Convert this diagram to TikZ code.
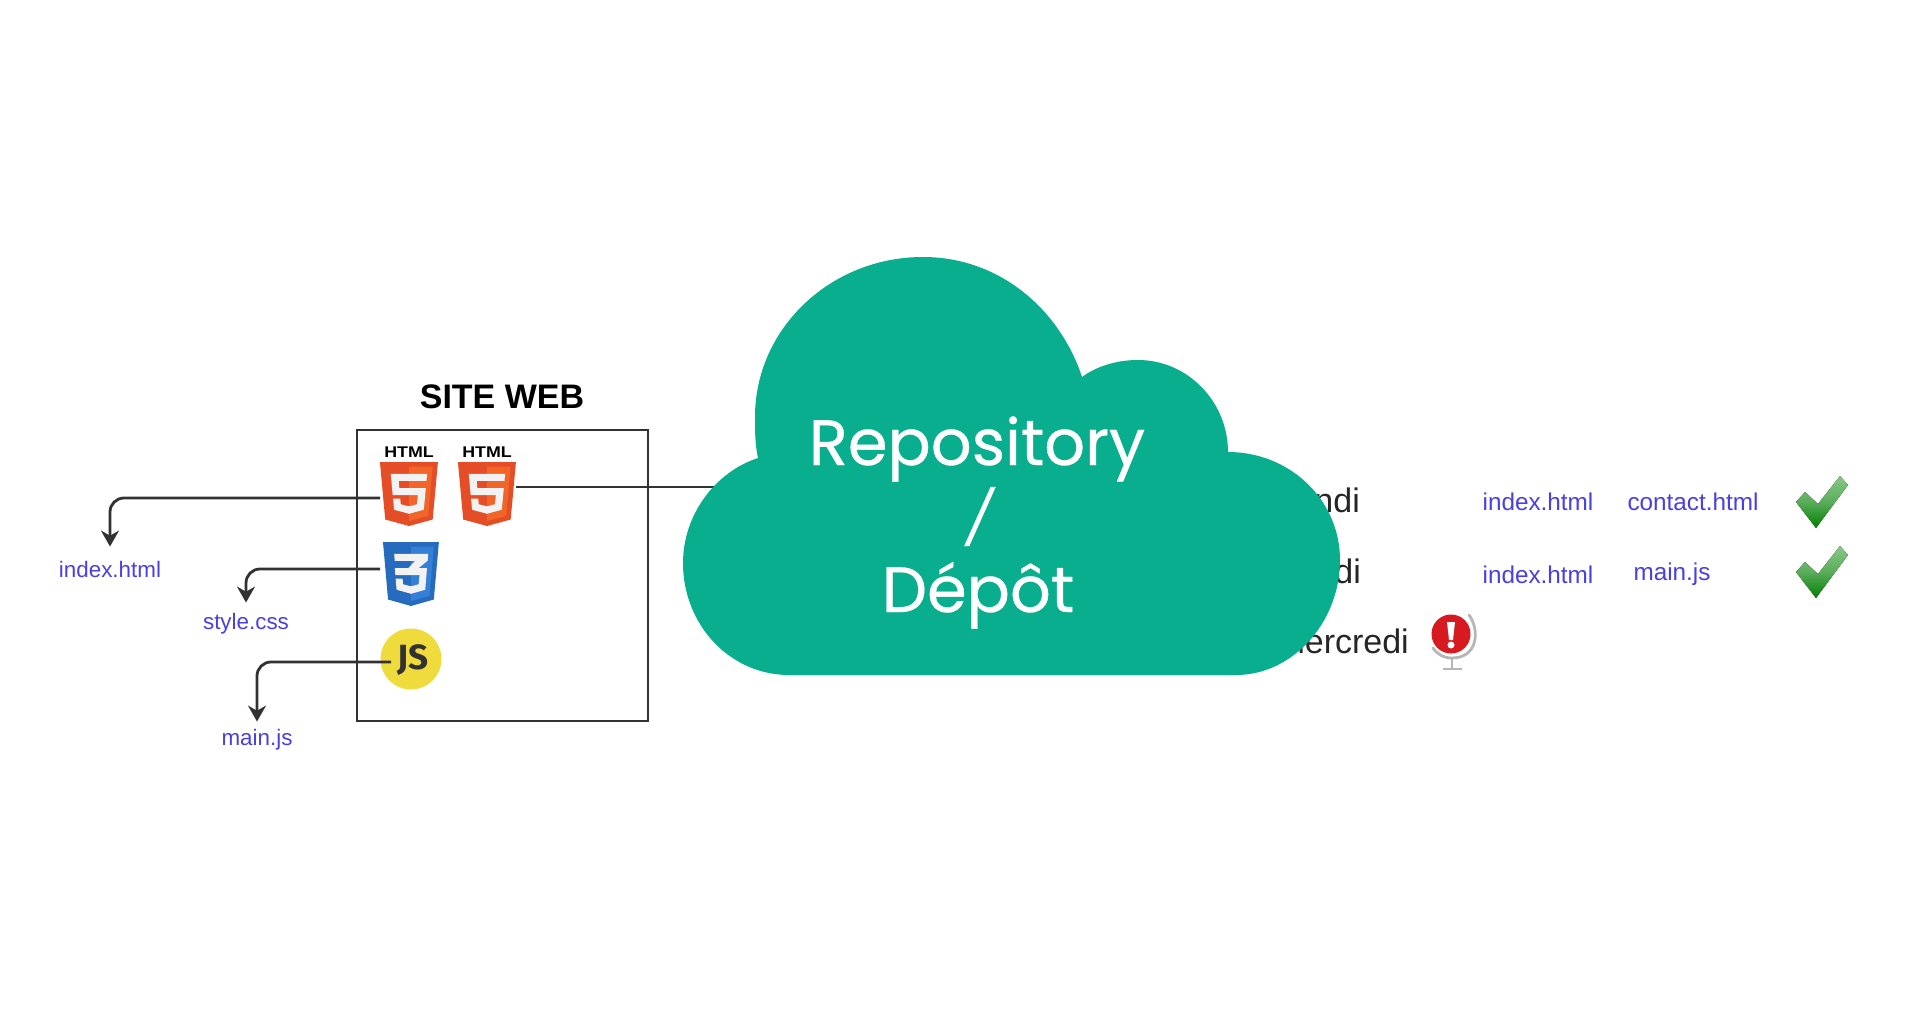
\documentclass[tikz,border=0pt]{standalone}
\usepackage{fontspec}
\setmainfont{Liberation Sans}
\newfontfamily\cloudfont[FakeBold=0.5]{Poppins}
\newfontfamily\jsfont{Fira Sans}
\newfontfamily\tagfont[FakeStretch=1.15]{Liberation Sans}
\usepackage{tikz}
\usetikzlibrary{arrows.meta}
\definecolor{cloudgreen}{RGB}{9,174,142}
\definecolor{linkblue}{RGB}{74,63,224}
\definecolor{linedark}{RGB}{50,50,50}
\definecolor{htmldark}{RGB}{228,77,38}
\definecolor{htmllight}{RGB}{241,101,41}
\definecolor{cssdark}{RGB}{38,107,189}
\definecolor{csslight}{RGB}{51,128,214}
\definecolor{jsyellow}{RGB}{240,219,60}
\definecolor{alertred}{RGB}{214,26,32}
\definecolor{standgray}{RGB}{182,182,182}
\definecolor{tickhigh}{RGB}{135,200,135}
\definecolor{tickmid}{RGB}{90,172,90}
\definecolor{ticklow}{RGB}{0,128,0}

\tikzset{
	html5/.pic={
		\begin{scope}[xscale=.1286,yscale=.125,shift={(-256,0)}]
			\fill[htmldark] (30,0) -- (481,0) -- (440,460) -- (256,512) -- (71,460) -- cycle;
			\fill[htmllight] (256,37) -- (440,37) -- (405,431) -- (256,472) -- cycle;
			\fill[shieldmark] (114,94) -- (397,94) -- (392,150) -- (176,150) -- (181,208) -- (387,208) -- (371,382) -- (256,414) -- (140,382) -- (132,293) -- (188,293) -- (192,338) -- (256,355) -- (318,338) -- (325,265) -- (129,265) -- cycle;
		\end{scope}
		\node[htmltag] (-tag) at (0,-10) {HTML};
		\coordinate (-w) at (-29,36);
		\coordinate (-e) at (29,25);
	},
	css3/.pic={
		\begin{scope}[xscale=.124,yscale=.125,shift={(-256,0)}]
			\fill[cssdark] (30,0) -- (481,0) -- (440,460) -- (256,512) -- (71,460) -- cycle;
			\fill[csslight] (256,37) -- (440,37) -- (405,431) -- (256,472) -- cycle;
			\fill[shieldmark] (120,94) -- (395,94) -- (390,150) -- (318,208) -- (385,208) -- (371,382) -- (256,414) -- (140,382) -- (132,293) -- (188,293) -- (192,338) -- (256,355) -- (318,338) -- (325,265) -- (130,265) -- (125,208) -- (235,208) -- (290,150) -- (125,150) -- cycle;
		\end{scope}
		\coordinate (-w) at (-31,27);
	},
	tick/.pic={
		\fill[top color=tickhigh, bottom color=ticklow, middle color=tickmid]
			(24,-52) -- (32,-43) -- (0,0) -- (-20,-26) -- (-11,-36) -- (2,-24) -- cycle;
	},
}

\begin{document}
\begin{tikzpicture}[x=1pt,y=-1pt]
	\tikzstyle{flow}=[draw=linedark, line width=2.8pt, rounded corners=14pt, -{Stealth[length=16pt,width=18pt]}]
	\tikzstyle{link}=[inner sep=0pt, anchor=base, text=linkblue]
	\tikzstyle{filesmall}=[link, font=\fontsize{22.4}{24}\selectfont]
	\tikzstyle{filebig}=[link, font=\fontsize{24.3}{26}\selectfont]
	\tikzstyle{day}=[inner sep=0pt, anchor=base east, text=black!85, font=\fontsize{34}{36}\selectfont]
	\tikzstyle{shieldmark}=[fill=black!5]
	\tikzstyle{htmltag}=[inner sep=0pt, font=\tagfont\fontsize{15.5}{16}\selectfont\bfseries]
	\tikzstyle{cloudtext}=[anchor=base, inner sep=0pt, text=white, font=\cloudfont\fontsize{64}{64}\selectfont]

	\useasboundingbox (0,0) rectangle (1920,1032);

	\node at (502,397) (title) {\fontsize{34}{36}\selectfont\bfseries SITE WEB};
	\node at (502.5,575.5) [draw=linedark, line width=2.8pt, minimum width=291pt, minimum height=291pt, inner sep=0pt] (site) {};

	\pic (hone) at (409,462) {html5};
	\pic (htwo) at (487,462) {html5};
	\pic (css) at (411,542) {css3};
	\node at (411,659) [circle, fill=jsyellow, minimum size=61pt, inner sep=0pt] (js) {};
	\node at (413,660) (jstext) {\jsfont\fontsize{35}{36}\selectfont\bfseries\textcolor{linedark}{JS}};
	\coordinate (jsout) at (391,662);

	\node at (110,577) [filesmall] (indexleft) {index.html};
	\node at (246,629) [filesmall] (styleleft) {style.css};
	\node at (257,745) [filesmall] (mainleft) {main.js};

	\draw [flow, shorten >=14pt] (hone-w) -| (indexleft.north);
	\draw [flow, shorten >=10pt] (css-w) -| (styleleft.north);
	\draw [flow, shorten >=7pt] (jsout) -| (mainleft.north);

	\coordinate (cloudin) at (716,487);
	\draw [draw=linedark, line width=2.8pt] (htwo-e) -- (cloudin);

	\node at (1360,512) [day] (dayone) {ndi};
	\node at (1361,583) [day] (daytwo) {di};
	\node at (1409,653) [day] (daythree) {mercredi};

	\node at (1538,510) [filebig] (indexone) {index.html};
	\node at (1693,510) [filebig] (contact) {contact.html};
	\node at (1538,583) [filebig] (indextwo) {index.html};
	\node at (1672,580) [filebig] (mainright) {main.js};

	\pic at (1816,528) {tick};
	\pic at (1816,598) {tick};

	% globe with the red alert
	\draw [standgray, line width=2.8pt, line cap=round] (1469,615) .. controls (1480,630) and (1478,658) .. (1452,658) .. controls (1444,658) and (1438,655) .. (1433,648);
	\draw [standgray, line width=2.8pt] (1452,658) -- (1452,668);
	\draw [standgray, line width=2.8pt] (1443,669) -- (1462,669);
	\node at (1451,634) [circle, fill=alertred, minimum size=39pt, inner sep=0pt] (alert) {};
	\fill [white] (1447,622) -- (1455,622) -- (1453,640) -- (1449,640) -- cycle;
	\fill [white] (1451,645) circle (3.5);

	\fill [cloudgreen] (758,458) .. controls (755,445) and (755,430) .. (755,417)
		.. controls (755,329) and (830,257) .. (923,257)
		.. controls (1000,257) and (1060,310) .. (1082,377)
		.. controls (1097,366) and (1117,360) .. (1138,360)
		.. controls (1188,360) and (1228,402) .. (1228,452)
		.. controls (1290,452) and (1340,500) .. (1340,560)
		.. controls (1340,622) and (1293,675) .. (1236,675)
		-- (789,675)
		.. controls (730,675) and (683,625) .. (683,563)
		.. controls (683,515) and (715,472) .. (758,458) -- cycle;

	\node at (977,465) [cloudtext] (repo) {Repository};
	\node at (976,537) [cloudtext, transform shape, xslant=.2, font=\cloudfont\fontsize{53}{53}\selectfont] (slash) {/};
	\node at (978,612) [cloudtext] (depot) {Dépôt};
\end{tikzpicture}
\end{document}
